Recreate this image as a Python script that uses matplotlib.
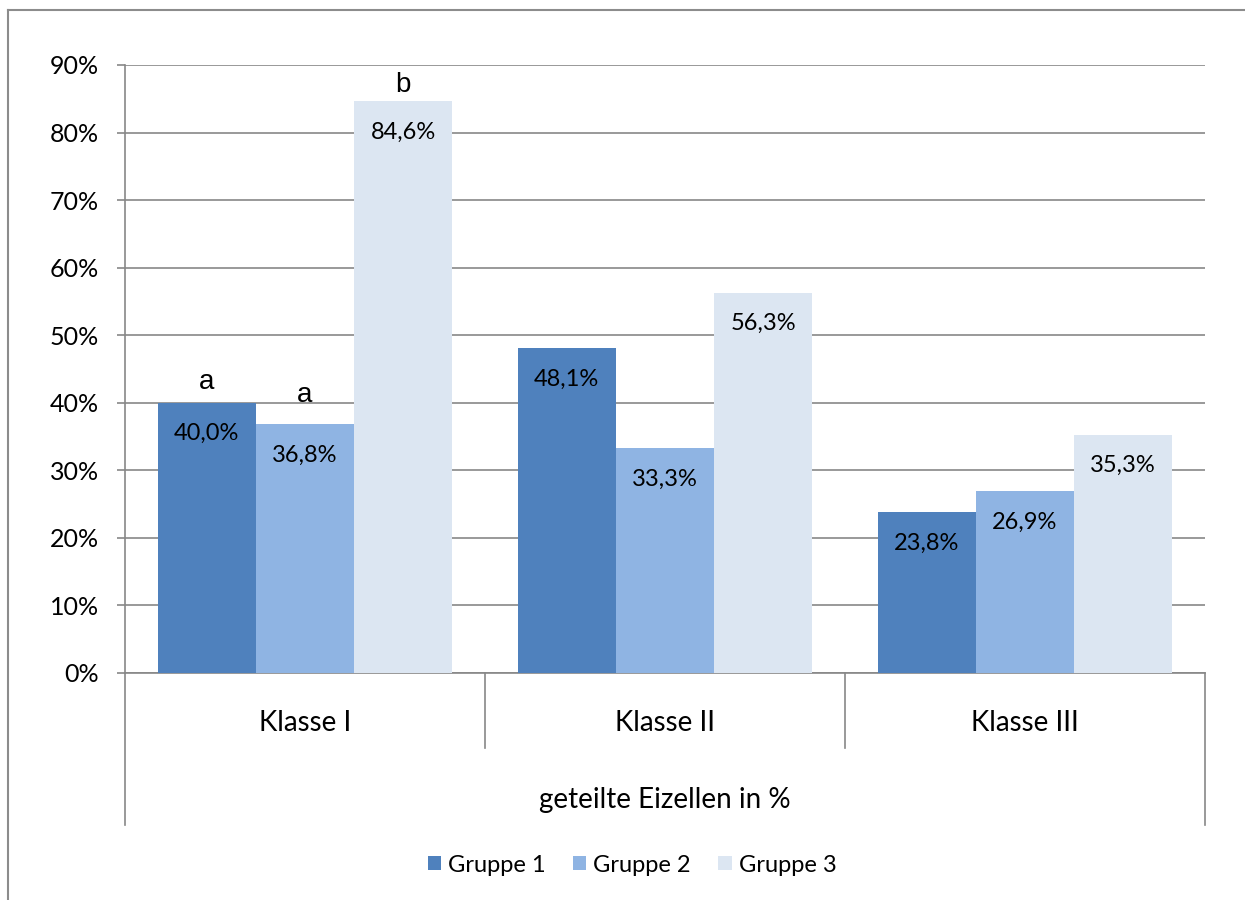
import matplotlib
matplotlib.use("Agg")
import matplotlib.pyplot as plt
from matplotlib.lines import Line2D
import numpy as np

plt.rcParams['font.family'] = ['Lato', 'DejaVu Sans']

# data
categories = ['Klasse I', 'Klasse II', 'Klasse III']
groups = ['Gruppe 1', 'Gruppe 2', 'Gruppe 3']
gruppe1 = [40.0, 48.1, 23.8]
gruppe2 = [36.8, 33.3, 26.9]
gruppe3 = [84.6, 56.3, 35.3]
values = [gruppe1, gruppe2, gruppe3]
axis_title = 'geteilte Eizellen in %'
# significance letters: (group index, category index, letter)
letters = [(0, 0, 'a'), (1, 0, 'a'), (2, 0, 'b')]

colors = ['#4F81BD', '#8FB4E3', '#DCE6F2']
grid_col = '#878787'

fig = plt.figure(figsize=(12.45, 9), dpi=100)
ax = fig.add_axes([125 / 1245, 1 - 673 / 900, 1080 / 1245, 608 / 900])

x = np.arange(len(categories))
w = 0.273
bars = []
for i, vals in enumerate(values):
    b = ax.bar(x + (i - 1) * w, vals, width=w, color=colors[i], label=groups[i], zorder=3)
    bars.append(b)
    for xi, v in zip(x + (i - 1) * w, vals):
        ax.annotate(f'{v:.1f}%'.replace('.', ','), (xi, v), xytext=(0, -27),
                    textcoords='offset points', ha='center', va='baseline',
                    fontsize=17, zorder=4)

# letters above the Klasse I bars
letter_off = [10, 16, 6.5]
for (g, c, t), off in zip(letters, letter_off):
    ax.annotate(t, (c + (g - 1) * w, values[g][c]), xytext=(0, off),
                textcoords='offset points', ha='center', va='baseline',
                fontsize=20, family='Liberation Sans')

ax.set_xlim(-0.5, 2.5)
ax.set_ylim(0, 90)
ax.set_yticks(np.arange(0, 91, 10))
ax.set_yticklabels([f'{t}%' for t in range(0, 91, 10)], fontsize=18)
ax.yaxis.grid(True, color=grid_col, lw=1.2, zorder=0)
ax.tick_params(axis='y', length=6, width=1.2, color=grid_col, pad=13)
ax.set_xticks([])
for s in ['top', 'right']:
    ax.spines[s].set_visible(False)
for s in ['left', 'bottom']:
    ax.spines[s].set_color(grid_col)
    ax.spines[s].set_linewidth(1.2)

# two level category axis
trans = ax.get_xaxis_transform()
for bx in [-0.5, 0.5, 1.5, 2.5]:
    low = -0.25 if bx in (-0.5, 2.5) else -0.1234
    ax.add_line(Line2D([bx, bx], [0, low], transform=trans, color=grid_col,
                       lw=1.2, clip_on=False))
for xi, c in zip(x, categories):
    ax.text(xi, -0.082, c, transform=trans, ha='center', va='center', fontsize=20)
ax.text(1.0, -0.209, axis_title, transform=trans, ha='center', va='center', fontsize=20)

fig.legend(handles=bars, labels=groups, loc='center', bbox_to_anchor=(632 / 1245, 1 - 865 / 900),
           ncol=3, frameon=False, fontsize=17, handlelength=0.57, handleheight=0.57,
           handletextpad=0.3, columnspacing=1.15)

# chart frame (only left and top edges fall inside the picture)
fx, fy = 8 / 1245, 1 - 10 / 900
fig.add_artist(Line2D([fx, fx], [0, fy], transform=fig.transFigure, color='#8c8c8c', lw=1.5))
fig.add_artist(Line2D([fx, 1], [fy, fy], transform=fig.transFigure, color='#8c8c8c', lw=1.5))

fig.savefig('out.png', dpi=100)
